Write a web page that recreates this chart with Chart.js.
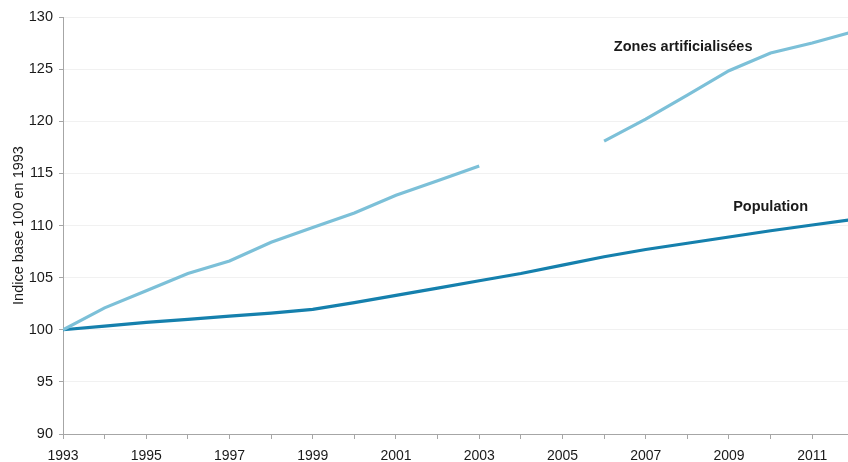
<!DOCTYPE html>
<html lang="fr">
<head>
<meta charset="utf-8">
<title>Zones artificialisées et population</title>
<script src="https://cdn.jsdelivr.net/npm/chart.js@4"></script>
<style>
  html, body { margin: 0; padding: 0; background: #fff; }
  #wrap { width: 848px; height: 462px; }
</style>
</head>
<body>
<div id="wrap"><canvas id="indice-chart" width="848" height="462"></canvas></div>
<script>
// années 1993 à 2012 (axe coupé juste avant 2012)
const annees = [1993, 1994, 1995, 1996, 1997, 1998, 1999, 2000, 2001, 2002,
  2003, 2004, 2005, 2006, 2007, 2008, 2009, 2010, 2011, 2012];

// indice base 100 en 1993 ; pas de données pour 2004 et 2005
const zonesArtificialisees = [100, 102.1, 103.75, 105.4, 106.6, 108.4, 109.8, 111.2, 112.9, 114.3,
  115.7, null, null, 118.1, 120.2, 122.5, 124.85, 126.55, 127.5, 128.6];

const population = [100, 100.35, 100.7, 101.0, 101.3, 101.6, 101.95, 102.6, 103.3, 104.0,
  104.7, 105.4, 106.2, 107.0, 107.7, 108.3, 108.9, 109.5, 110.05, 110.6];

const ticksY = [90, 95, 100, 105, 110, 115, 120, 125, 130];

// étiquettes des courbes : [texte, année, valeur]
const etiquettes = [
  ["Zones artificialisées", 2007.9, 127.15],
  ["Population", 2010.0, 111.75],
];

const GRIS_AXE = "#a6a6a6";
const POLICE = "'Liberation Sans', Arial, sans-serif";

// =======================
// Étiquettes posées sur les courbes
// =======================
const etiquettesPlugin = {
  id: "etiquettes",
  afterDatasetsDraw(chart) {
    const { ctx, scales } = chart;
    ctx.save();
    ctx.font = `bold 14.5px ${POLICE}`;
    ctx.fillStyle = "#1a1a1a";
    ctx.textAlign = "center";
    ctx.textBaseline = "middle";
    etiquettes.forEach(([texte, annee, valeur]) => {
      ctx.fillText(texte, scales.x.getPixelForValue(annee), scales.y.getPixelForValue(valeur));
    });
    ctx.restore();
  },
};

const serie = (valeurs) => annees.map((a, i) => ({ x: a, y: valeurs[i] }));

const ctx = document.getElementById("indice-chart").getContext("2d");
new Chart(ctx, {
  type: "line",
  data: {
    datasets: [
      {
        label: "Zones artificialisées",
        data: serie(zonesArtificialisees),
        borderColor: "#7cc0d8",
        borderWidth: 3.2,
        pointRadius: 0,
        tension: 0,
        spanGaps: false,
      },
      {
        label: "Population",
        data: serie(population),
        borderColor: "#1580ad",
        borderWidth: 3.2,
        pointRadius: 0,
        tension: 0,
      },
    ],
  },
  options: {
    responsive: false,
    animation: false,
    layout: { padding: { top: 17, right: 0, left: 10, bottom: 0 } },
    plugins: {
      legend: { display: false },
      tooltip: { enabled: false },
    },
    scales: {
      x: {
        type: "linear",
        min: 1993,
        max: 2011.86,
        afterFit: (s) => { s.height = 28; },
        afterBuildTicks: (s) => { s.ticks = annees.filter((a) => a <= 2011).map((a) => ({ value: a })); },
        border: { color: GRIS_AXE, width: 1 },
        grid: { drawOnChartArea: false, tickLength: 5, tickColor: GRIS_AXE },
        ticks: {
          autoSkip: false,
          maxRotation: 0,
          padding: 9,
          color: "#1a1a1a",
          font: { family: POLICE, size: 14 },
          callback: (v) => ((v - 1993) % 2 === 0 ? String(v) : ""),
        },
      },
      y: {
        min: 90,
        max: 130,
        afterFit: (s) => { s.width = 53; },
        afterBuildTicks: (s) => { s.ticks = ticksY.map((v) => ({ value: v })); },
        border: { color: GRIS_AXE, width: 1 },
        grid: { color: "#f1f1f1", tickLength: 4, tickColor: GRIS_AXE },
        ticks: {
          padding: 6,
          color: "#1a1a1a",
          font: { family: POLICE, size: 14.5 },
        },
        title: {
          display: true,
          text: "Indice base 100 en 1993",
          color: "#1a1a1a",
          font: { family: POLICE, size: 14.5 },
          padding: { top: 0, bottom: 2 },
        },
      },
    },
  },
  plugins: [etiquettesPlugin],
});
</script>
</body>
</html>
